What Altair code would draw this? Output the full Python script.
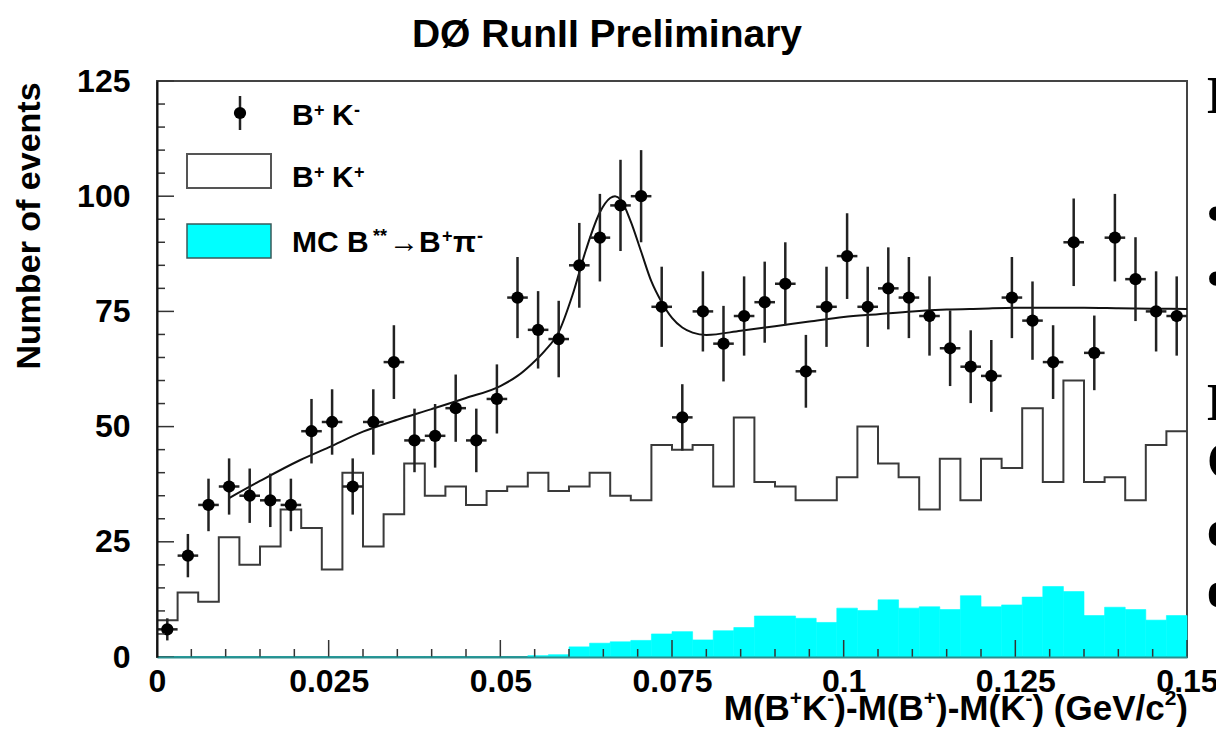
import altair as alt
import pandas as pd

# ---------------- data ----------------
BIN_W = 0.003
N_BINS = 50

# B+ K- data points (bin contents) and their errors
bk_minus = [6, 22, 33, 37, 35, 34, 33, 49, 51, 37,
            51, 64, 47, 48, 54, 47, 56, 78, 71, 69,
            85, 91, 98, 100, 76, 52, 75, 68, 74, 77,
            81, 62, 76, 87, 76, 80, 78, 74, 67, 63,
            61, 78, 73, 64, 90, 66, 91, 82, 75, 74]
bk_minus_err = [2.4, 4.7, 5.7, 6.1, 5.9, 5.8, 5.7, 7.0, 7.1, 6.1,
                7.1, 8.0, 6.9, 6.9, 7.3, 6.9, 7.5, 8.8, 8.4, 8.3,
                9.2, 9.5, 9.9, 10.0, 8.7, 7.2, 8.7, 8.2, 8.6, 8.8,
                9.0, 7.9, 8.7, 9.3, 8.7, 8.9, 8.8, 8.6, 8.2, 7.9,
                7.8, 8.8, 8.5, 8.0, 9.5, 8.1, 9.5, 9.1, 8.7, 8.6]

# B+ K+ histogram
bk_plus = [8, 14, 12, 26, 20, 24, 32, 28, 19, 40,
           24, 31, 42, 35, 37, 33, 36, 37, 40, 36,
           37, 40, 35, 34, 46, 45, 46, 37, 52, 38,
           37, 34, 34, 39, 50, 42, 39, 32, 43, 34,
           43, 41, 54, 38, 60, 38, 39, 34, 46, 49]

# MC B** -> B+ pi- histogram
mc_hist = [0, 0, 0, 0, 0, 0, 0, 0, 0, 0,
           0, 0, 0, 0, 0, 0, 0, 0, 0.3, 0.5,
           2.2, 3.0, 3.3, 3.6, 5.0, 5.5, 3.7, 5.7, 6.4, 8.9,
           8.9, 8.4, 7.5, 10.6, 10.1, 12.4, 10.6, 10.9, 10.3, 13.3,
           10.9, 11.3, 13.0, 15.3, 14.2, 9.0, 10.8, 10.3, 8.0, 9.0]

# fit curve
fit_x = [0.0105, 0.015, 0.0208, 0.025, 0.030, 0.035, 0.040, 0.045, 0.050,
         0.0525, 0.0545, 0.0565, 0.0585, 0.0605, 0.0625, 0.0645, 0.0660,
         0.0667, 0.0675, 0.0690, 0.0705, 0.0720, 0.0735, 0.0750, 0.0765,
         0.0780, 0.0800, 0.085, 0.090, 0.095, 0.100, 0.105, 0.110, 0.115,
         0.120, 0.125, 0.130, 0.135, 0.140, 0.145, 0.150]
fit_y = [34.5, 38.2, 42.7, 45.5, 48.9, 51.5, 53.8, 56.2, 58.8,
         61.0, 63.5, 66.5, 70.5, 78.5, 88.5, 96.5, 99.6,
         100.0, 99.3, 94.5, 88.0, 81.5, 77.0, 73.6, 71.5,
         70.4, 69.9, 70.8, 71.8, 72.8, 73.8, 74.4, 75.0, 75.4,
         75.6, 75.8, 75.8, 75.8, 75.7, 75.6, 75.5]

x_major_ticks = [0, 0.025, 0.05, 0.075, 0.1, 0.125, 0.15]
y_major_ticks = [0, 25, 50, 75, 100, 125]
x_minor_ticks = [round(i * 0.005, 4) for i in range(31) if i % 5 != 0]
y_minor_ticks = [i * 5 for i in range(26) if i % 5 != 0]

# ---------------- tables ----------------
lo = [i * BIN_W for i in range(N_BINS)]
hi = [(i + 1) * BIN_W for i in range(N_BINS)]
center = [(i + 0.5) * BIN_W for i in range(N_BINS)]
df = pd.DataFrame({"lo": lo, "hi": hi, "center": center,
                   "bkm": bk_minus, "err": bk_minus_err,
                   "bkp": bk_plus, "mc": mc_hist})
df["ylo"] = df["bkm"] - df["err"]
df["yhi"] = df["bkm"] + df["err"]
df["zero"] = 0.0

step_df = pd.DataFrame({"edge": lo + [N_BINS * BIN_W], "v": bk_plus + [bk_plus[-1]]})
fit_df = pd.DataFrame({"x": fit_x, "y": fit_y})

W, H = 1030, 576
FONT = "Liberation Sans"
xscale = alt.Scale(domain=[0, 0.15], nice=False, zero=False)
yscale = alt.Scale(domain=[0, 125], nice=False, zero=False)

x_axis = alt.Axis(values=x_major_ticks, format=".3~f", ticks=False, grid=False,
                  domainColor="#2a8f8f", domainWidth=2, labelFont=FONT,
                  labelFontWeight="bold", labelFontSize=32, labelColor="black",
                  labelPadding=9, labelFlush=False, labelOverlap=False,
                  title=None, zindex=1)
y_axis = alt.Axis(values=y_major_ticks, format="d", ticks=False, grid=False,
                  domainColor="#111111", domainWidth=2, labelFont=FONT,
                  labelFontWeight="bold", labelFontSize=32, labelColor="black",
                  labelPadding=27, labelFlush=False, labelOverlap=False,
                  title=None, zindex=1)


def X(field):
    return alt.X(field, scale=xscale, axis=x_axis)


def Y(field):
    return alt.Y(field, scale=yscale, axis=y_axis)


mc_layer = alt.Chart(df).mark_rect(color="#00ffff", stroke="#00ffff", strokeWidth=0.6).encode(
    x=X("lo:Q"), x2="hi:Q", y=Y("mc:Q"), y2="zero:Q")

step_layer = alt.Chart(step_df).mark_line(interpolate="step-after", color="#3a3a3a",
                                          strokeWidth=2).encode(x=X("edge:Q"), y=Y("v:Q"))

fit_layer = alt.Chart(fit_df).mark_line(interpolate="monotone", color="#111111",
                                        strokeWidth=2).encode(x=X("x:Q"), y=Y("y:Q"))

vbar = alt.Chart(df).mark_rule(color="#222222", strokeWidth=2.5).encode(
    x=X("center:Q"), y=Y("ylo:Q"), y2="yhi:Q")
hbar = alt.Chart(df).mark_rule(color="#222222", strokeWidth=2.5).encode(
    x=X("lo:Q"), x2="hi:Q", y=Y("bkm:Q"))
pts = alt.Chart(df).mark_circle(size=150, color="black", opacity=1).encode(
    x=X("center:Q"), y=Y("bkm:Q"))


# inward ticks
def xticks(vals, length):
    return alt.Chart(pd.DataFrame({"t": vals})).mark_rule(color="#333333", strokeWidth=1.5).encode(
        x=X("t:Q"), y=alt.value(H), y2=alt.value(H - length))


def yticks(vals, length):
    return alt.Chart(pd.DataFrame({"t": vals})).mark_rule(color="#333333", strokeWidth=1.5).encode(
        y=Y("t:Q"), x=alt.value(0), x2=alt.value(length))


ONE = pd.DataFrame({"a": [0]})


def label(txt, x, y, size, align="left", baseline="middle", angle=0,
          font=FONT, weight="bold", color="black"):
    kw = dict(text=txt, fontSize=size, font=font, fontWeight=weight,
              align=align, baseline=baseline, color=color)
    if angle:
        kw["angle"] = angle
    return alt.Chart(ONE).mark_text(**kw).encode(x=alt.value(x), y=alt.value(y))


# Arial/Helvetica bold advance widths (em) used to set superscript pieces side by side
AW = {"M": .833, "(": .333, ")": .333, "B": .722, "K": .722, "-": .333, " ": .278,
      "G": .778, "e": .556, "V": .667, "/": .278, "c": .556, "+": .584, "2": .556}


def rich(pieces, right_x, y, main, sup, sup_dy):
    total = sum(sum(AW[c] for c in t) * (sup if s else main) for t, s in pieces)
    x = right_x - total
    out = []
    for t, s in pieces:
        size = sup if s else main
        out.append(label(t, x, y - sup_dy if s else y, size))
        x += sum(AW[c] for c in t) * size
    return out


xtitle_pieces = [("M(B", 0), ("+", 1), ("K", 0), ("-", 1), (")-M(B", 0), ("+", 1),
                 (")-M(K", 0), ("-", 1), (") (GeV/c", 0), ("2", 1), (")", 0)]

texts = [
    label("DØ RunII  Preliminary", 450, -46, 39, align="center"),
    label("Number of events", -127, 145, 34, align="center", angle=270),
] + rich(xtitle_pieces, 1031, 628, 35, 21, 10)

# legend
LEG = 30
SUP = 18
leg = []
leg.append(alt.Chart(ONE).mark_rule(color="#222222", strokeWidth=2.5).encode(
    x=alt.value(83), y=alt.value(15), y2=alt.value(49)))
leg.append(alt.Chart(ONE).mark_circle(size=150, color="black", opacity=1).encode(
    x=alt.value(83), y=alt.value(32)))
leg.append(alt.Chart(ONE).mark_rect(fill="white", stroke="#555555", strokeWidth=2).encode(
    x=alt.value(30), x2=alt.value(114), y=alt.value(73), y2=alt.value(107)))
leg.append(alt.Chart(ONE).mark_rect(fill="#00ffff", stroke="#3a5a5a", strokeWidth=1.5).encode(
    x=alt.value(30), x2=alt.value(114), y=alt.value(143), y2=alt.value(177)))
leg += [label("B", 135, 35, LEG), label("+", 157, 30, SUP),
        label("K", 175, 35, LEG), label("-", 197, 30, SUP)]
leg += [label("B", 135, 97, LEG), label("+", 157, 92, SUP),
        label("K", 175, 97, LEG), label("+", 197, 92, SUP)]
leg += [label("MC B", 135, 162, LEG), label("**", 216, 156, SUP),
        label("→B", 232, 162, LEG), label("+", 285, 156, SUP),
        label("π", 296, 162, LEG), label("-", 320, 156, SUP)]

# cut-off slide text at the right edge
side = []
for ch, yy in [("E", 16), ("•", 134), ("•", 199), ("E", 323), ("C", 381), ("c", 449), ("e", 510)]:
    side.append(label(ch, 1050, yy, 52, font="Liberation Serif"))

chart = alt.layer(
    mc_layer, step_layer, fit_layer, vbar, hbar, pts,
    xticks(x_major_ticks, 17), xticks(x_minor_ticks, 8),
    yticks(y_major_ticks, 17), yticks(y_minor_ticks, 8),
    *texts, *leg, *side,
).properties(
    width=W, height=H,
    padding={"left": 149, "top": 73, "right": 29, "bottom": 71},
    autosize=alt.AutoSizeParams(type="none"),
).configure_view(stroke="#444444", strokeWidth=2)

chart.save("out.html", embed_options={"renderer": "svg", "actions": False})
